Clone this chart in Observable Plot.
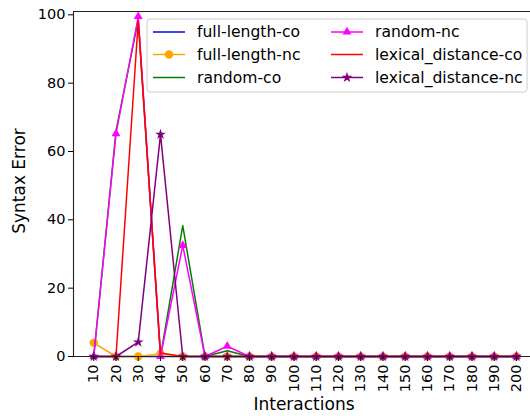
<!DOCTYPE html>
<html><head><meta charset="utf-8">
<script src="https://cdn.jsdelivr.net/npm/d3@7"></script>
<script src="https://cdn.jsdelivr.net/npm/@observablehq/plot@0.6"></script>
<style>body{margin:0;background:#fff} svg{display:block}</style>
</head><body><div id="chart"></div>
<script>
const interactions = [10,20,30,40,50,60,70,80,90,100,110,120,130,140,150,160,170,180,190,200];
const yTicks = [0,20,40,60,80,100];
const fullLengthCo = [0,0,0,0,0,0,0,0,0,0,0,0,0,0,0,0,0,0,0,0];
const fullLengthNc = [4,0,0,0.8,0,0,0,0,0,0,0,0,0,0,0,0,0,0,0,0];
const randomCo     = [0,66,98.5,0,38.3,0,1.7,0,0,0,0,0,0,0,0,0,0,0,0,0];
const randomNc     = [0,65.2,99.5,0,32.5,0,3,0,0,0,0,0,0,0,0,0,0,0,0,0];
const lexicalCo    = [0,0,98.2,1,0,0,0,0,0,0,0,0,0,0,0,0,0,0,0,0];
const lexicalNc    = [0,0,4.2,65,0,0,0,0,0,0,0,0,0,0,0,0,0,0,0,0];
const seriesNames  = ["full-length-co","full-length-nc","random-co","random-nc","lexical_distance-co","lexical_distance-nc"];
const seriesColors = ["blue","orange","green","magenta","red","purple"];
const seriesSymbols = [null,"circle",null,"triangle",null,"star"];
const seriesValues = [fullLengthCo,fullLengthNc,randomCo,randomNc,lexicalCo,lexicalNc];

const xDomain = [0.9, 206.3];
const yDomain = [0, 100.97];
const symR = {circle: 4.2, triangle: 3.3, star: 3.4};

const marks = [];
seriesNames.forEach((name, i) => {
  const data = interactions.map((x, j) => ({x, y: seriesValues[i][j]}));
  marks.push(Plot.line(data, {x: "x", y: "y", stroke: seriesColors[i], strokeWidth: 1.5}));
  if (seriesSymbols[i]) {
    marks.push(Plot.dot(data, {x: "x", y: "y", fill: seriesColors[i], stroke: "none", symbol: () => seriesSymbols[i], r: symR[seriesSymbols[i]]}));
  }
});

const chart = Plot.plot({
  width: 530, height: 416,
  marginLeft: 73, marginRight: 0, marginTop: 11, marginBottom: 60,
  style: {fontFamily: "DejaVu Sans", color: "black", background: "white"},
  x: {domain: xDomain},
  y: {domain: yDomain},
  symbol: {type: "identity"},
  marks: [
    ...marks,
    Plot.ruleX([xDomain[0]], {stroke: "#222", strokeWidth: 1.1}),
    Plot.ruleY([yDomain[0]], {stroke: "#222", strokeWidth: 1.1}),
    Plot.ruleY([yDomain[1]], {stroke: "#222", strokeWidth: 1.1}),
    Plot.axisX({ticks: interactions, tickRotate: -90, tickSize: 5, tickPadding: 3, fontSize: 14.5, label: null, tickFormat: d => String(d)}),
    Plot.axisY({ticks: yTicks, tickSize: 5, tickPadding: 3, fontSize: 14.5, label: null, tickFormat: d => String(d)})
  ]
});
document.getElementById("chart").appendChild(chart);

const svg = d3.select(chart);
svg.append("text").attr("x", 304).attr("y", 410).attr("text-anchor", "middle")
  .attr("font-family", "DejaVu Sans").attr("font-size", 17).attr("fill", "black").text("Interactions");
svg.append("text").attr("transform", "translate(19,181) rotate(-90)").attr("text-anchor", "middle")
  .attr("dominant-baseline", "central")
  .attr("font-family", "DejaVu Sans").attr("font-size", 17).attr("fill", "black").text("Syntax Error");

// legend
const lg = svg.append("g");
lg.append("rect").attr("x", 147).attr("y", 19).attr("width", 380).attr("height", 73).attr("rx", 3)
  .attr("fill", "white").attr("fill-opacity", 0.8).attr("stroke", "#cccccc");
const colX = [153, 331], rowY = [32, 54.5, 77.5];
seriesNames.forEach((name, i) => {
  const cx = colX[Math.floor(i / 3)], cy = rowY[i % 3];
  lg.append("line").attr("x1", cx).attr("x2", cx + 32).attr("y1", cy).attr("y2", cy)
    .attr("stroke", seriesColors[i]).attr("stroke-width", 1.5);
  if (seriesSymbols[i]) {
    const t = {circle: d3.symbolCircle, triangle: d3.symbolTriangle, star: d3.symbolStar}[seriesSymbols[i]];
    const r = symR[seriesSymbols[i]];
    lg.append("path").attr("transform", `translate(${cx + 16},${cy})`)
      .attr("d", d3.symbol(t, Math.PI * r * r)()).attr("fill", seriesColors[i]);
  }
  lg.append("text").attr("x", cx + 44).attr("y", cy).attr("dominant-baseline", "central")
    .attr("text-anchor", "start")
    .attr("font-family", "DejaVu Sans").attr("font-size", 15.6).attr("fill", "black").text(name);
});
</script></body></html>
